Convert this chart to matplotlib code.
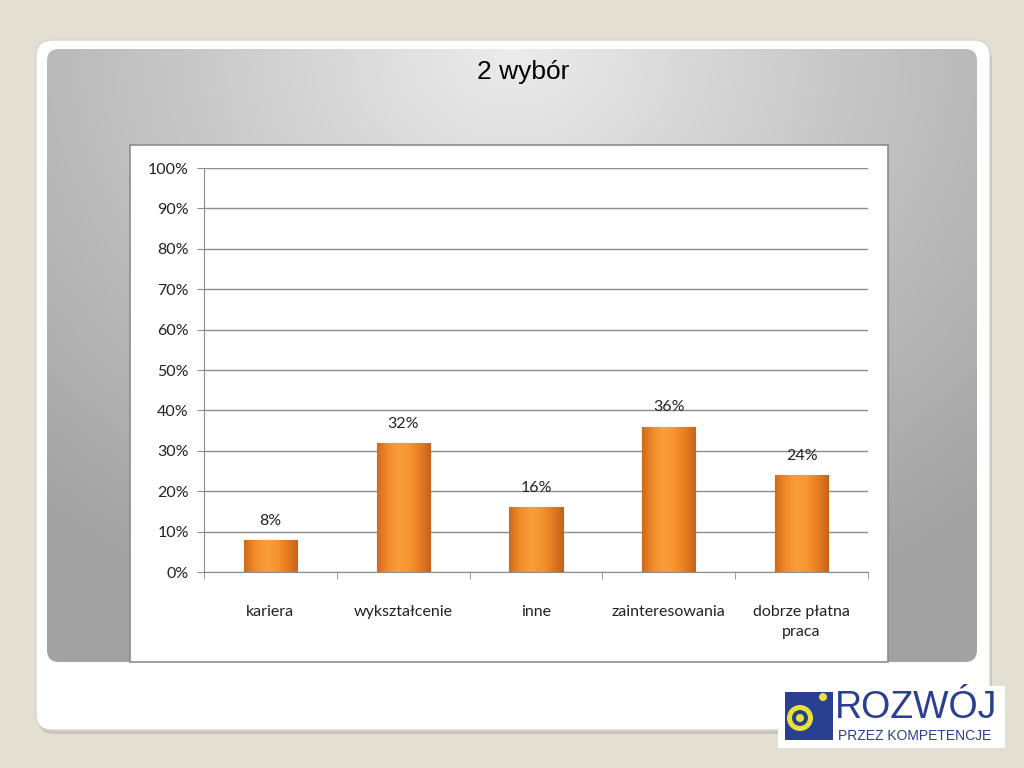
import numpy as np
import matplotlib.pyplot as plt
from matplotlib.patches import FancyBboxPatch, Rectangle, Circle
from matplotlib.colors import LinearSegmentedColormap

categories = ["kariera", "wykształcenie", "inne", "zainteresowania", "dobrze płatna\npraca"]
values = [8, 32, 16, 36, 24]
yticks = [0, 10, 20, 30, 40, 50, 60, 70, 80, 90, 100]
title = "2 wybór"

W, H = 1024, 768
fig = plt.figure(figsize=(W / 100, H / 100), dpi=100)
fig.patch.set_facecolor("#e3dfd3")

# background layer in pixel coords
bg = fig.add_axes([0, 0, 1, 1])
bg.set_xlim(0, W)
bg.set_ylim(H, 0)
bg.axis("off")

shadow = FancyBboxPatch((38, 44), 954, 690, boxstyle="round,pad=0,rounding_size=16",
                        fc="#c9c5ba", ec="none")
bg.add_patch(shadow)
card = FancyBboxPatch((36, 40), 954, 690, boxstyle="round,pad=0,rounding_size=16",
                      fc="white", ec="#d8d4c8", lw=1)
bg.add_patch(card)

# gray radial gradient panel
gx, gy = np.meshgrid(np.linspace(0, 1, 300), np.linspace(0, 1, 200))
r = np.sqrt(((gx - 0.5) * 1.3) ** 2 + ((gy - 0.0) * 1.0) ** 2)
r = np.clip(r / 1.0, 0, 1)
gcmap = LinearSegmentedColormap.from_list("g", ["#ececec", "#c4c4c4", "#a2a2a2"])
panel = FancyBboxPatch((47, 49), 930, 613, boxstyle="round,pad=0,rounding_size=12",
                       fc="none", ec="none")
bg.add_patch(panel)
im = bg.imshow(r, cmap=gcmap, extent=(47, 977, 662, 49), aspect="auto", zorder=1)
im.set_clip_path(panel)

bg.text(523, 72, title, ha="center", va="center", fontsize=19,
        family="Liberation Sans", color="black", zorder=3)

# white chart area
bg.add_patch(Rectangle((130, 145), 758, 517, fc="white", ec="#8c8c8c", lw=1.2, zorder=2))

# logo
bg.add_patch(Rectangle((778, 686), 227, 62, fc="white", ec="none", zorder=3))
bg.add_patch(Rectangle((785, 692), 48, 48, fc="#2a3f8f", ec="none", zorder=4))
bg.add_patch(Circle((800, 718), 13, fc="#e8e23a", ec="none", zorder=5))
bg.add_patch(Circle((800, 718), 8, fc="#2a3f8f", ec="none", zorder=6))
bg.add_patch(Circle((800, 718), 4, fc="#e8e23a", ec="none", zorder=7))
bg.add_patch(Circle((823, 697), 4, fc="#e8e23a", ec="none", zorder=6))
bg.text(835, 708, "ROZWÓJ", ha="left", va="center", fontsize=27, color="#2a3f8f",
        family="Liberation Sans", zorder=6)
bg.text(838, 736, "PRZEZ KOMPETENCJE", ha="left", va="center", fontsize=10,
        color="#2a3f8f", family="Liberation Sans", zorder=6)

# plot axes
ax = fig.add_axes([204 / W, 1 - 572 / H, (868 - 204) / W, (572 - 168) / H])
ax.set_facecolor("white")
ax.set_zorder(5)
x = np.arange(len(categories))
ax.set_xlim(-0.5, len(categories) - 0.5)
ax.set_ylim(0, 100)
ax.set_yticks(yticks)
ax.set_yticklabels([f"{t}%" for t in yticks])
ax.yaxis.grid(True, color="#8c8c8c", lw=1)
ax.set_axisbelow(True)
for s in ["top", "right"]:
    ax.spines[s].set_visible(False)
ax.spines["left"].set_color("#8c8c8c")
ax.spines["bottom"].set_color("#8c8c8c")
ax.tick_params(axis="y", length=5, color="#8c8c8c", labelsize=11.5, pad=6, labelcolor="#222222")
ax.set_xticks(np.arange(len(categories) + 1) - 0.5, minor=True)
ax.set_xticks(x)
ax.set_xticklabels(categories, fontsize=11.5, color="#222222", linespacing=1.5)
ax.tick_params(axis="x", which="major", length=0, pad=24)
ax.tick_params(axis="x", which="minor", length=5, color="#8c8c8c", direction="out")
for lbl in ax.get_yticklabels() + ax.get_xticklabels():
    lbl.set_family("Lato")

bw = 0.4
ocmap = LinearSegmentedColormap.from_list(
    "o", ["#d06a1c", "#f28c2a", "#f99d3a", "#f6952f", "#e67d22", "#c8631b"])
grad = np.linspace(0, 1, 100).reshape(1, -1)
bars = ax.bar(x, values, width=bw, color="#f39027", edgecolor="#c0661c", lw=0.8, zorder=3)
for b, v, xi in zip(bars, values, x):
    gi = ax.imshow(grad, cmap=ocmap, extent=(xi - bw / 2, xi + bw / 2, 0, v),
                   aspect="auto", zorder=3.5)
    gi.set_clip_path(b)
    ax.text(xi, v + 3, f"{v}%", ha="center", va="bottom", fontsize=11.5,
            color="#222222", family="Lato", zorder=4)
ax.set_xlim(-0.5, len(categories) - 0.5)
ax.set_ylim(0, 100)

fig.savefig("out.png", dpi=100, facecolor=fig.get_facecolor())
